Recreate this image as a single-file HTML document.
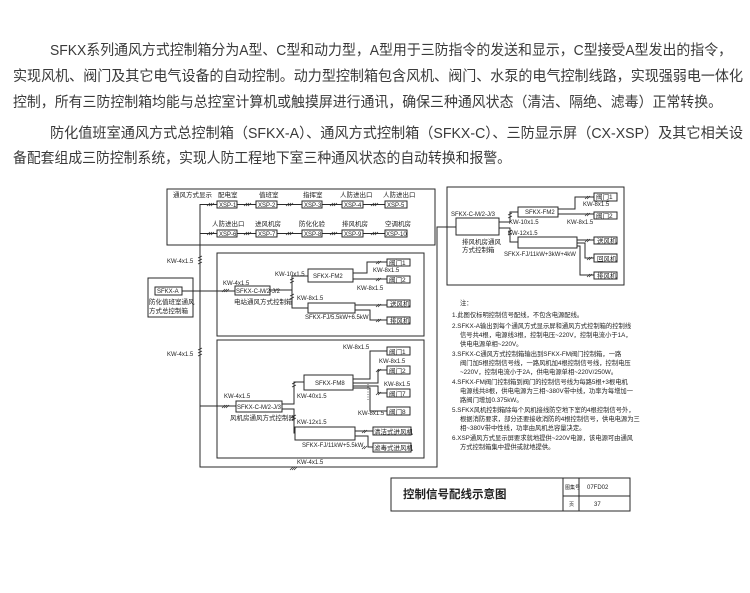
<!DOCTYPE html>
<html><head><meta charset="utf-8"><style>
html,body{margin:0;padding:0;background:#fff;width:750px;height:593px;overflow:hidden}
svg{display:block}
.p{font-family:"Liberation Sans","Noto Sans CJK SC",sans-serif;font-size:14.5px;fill:#3a3a3a}
.d{font-family:"Liberation Sans","Noto Sans CJK SC",sans-serif;fill:#222}
.s{font-size:6px}
.c{font-size:6.5px}
.n{font-size:6.3px}
</style></head><body>
<svg width="750" height="593" viewBox="0 0 750 593" xmlns="http://www.w3.org/2000/svg">
<g class="p">
<text x="50" y="55" textLength="682" lengthAdjust="spacingAndGlyphs">SFKX系列通风方式控制箱分为A型、C型和动力型，A型用于三防指令的发送和显示，C型接受A型发出的指令，</text>
<text x="13" y="81" textLength="730" lengthAdjust="spacingAndGlyphs">实现风机、阀门及其它电气设备的自动控制。动力型控制箱包含风机、阀门、水泵的电气控制线路，实现强弱电一体化</text>
<text x="13" y="107" textLength="709" lengthAdjust="spacingAndGlyphs">控制，所有三防控制箱均能与总控室计算机或触摸屏进行通讯，确保三种通风状态（清洁、隔绝、滤毒）正常转换。</text>
<text x="50" y="138" textLength="693" lengthAdjust="spacingAndGlyphs">防化值班室通风方式总控制箱（SFKX-A）、通风方式控制箱（SFKX-C）、三防显示屏（CX-XSP）及其它相关设</text>
<text x="13" y="163" textLength="498" lengthAdjust="spacingAndGlyphs">备配套组成三防控制系统，实现人防工程地下室三种通风状态的自动转换和报警。</text>
</g>
<g fill="none" stroke="#2a2a2a" stroke-width="1">
<rect x="167" y="189" width="268" height="56"/>
<rect x="217" y="201" width="20" height="7"/><rect x="256" y="201" width="21" height="7"/><rect x="302" y="201" width="20" height="7"/><rect x="342" y="201" width="21" height="7"/><rect x="385" y="201" width="22" height="7"/>
<rect x="217" y="230" width="20" height="7"/><rect x="256" y="230" width="21" height="7"/><rect x="302" y="230" width="20" height="7"/><rect x="342" y="230" width="21" height="7"/><rect x="385" y="230" width="22" height="7"/>
<path d="M200 204.5H217M237 204.5H256M277 204.5H302M322 204.5H342M363 204.5H385"/>
<path d="M200 233.5H217M237 233.5H256M277 233.5H302M322 233.5H342M363 233.5H385"/>
<path d="M200 204V467H437V227H456"/>
<rect x="148" y="278" width="45" height="39"/>
<rect x="155" y="287" width="27" height="8"/>
<path d="M182 291H235"/>
<rect x="217" y="253" width="207" height="83"/>
<rect x="235" y="286" width="35" height="9"/>
<rect x="308" y="269" width="45" height="13"/>
<rect x="308" y="303" width="47" height="10"/>
<path d="M270 290H292V276H308M292 290V308H308"/>
<path d="M353 273H367V262H387M353 279H387"/>
<path d="M355 305H387M355 310H370V320H387"/>
<rect x="387" y="259" width="23" height="7"/><rect x="387" y="276" width="23" height="7"/>
<rect x="387" y="300" width="23" height="7"/><rect x="387" y="317" width="23" height="7"/>
<rect x="217" y="340" width="207" height="118"/>
<rect x="236" y="401" width="46" height="11"/>
<rect x="304" y="375" width="49" height="15"/>
<rect x="295" y="427" width="60" height="13"/>
<path d="M200 406H236M282 404H294V382H304M282 409H294V433H295"/>
<path d="M353 379H370V351H387M353 383H378V370H387M353 386H378V393H387M353 388H370V411H387"/>
<path d="M355 431H373M355 436H368V447H373"/>
<rect x="387" y="347" width="23" height="8"/><rect x="387" y="366" width="23" height="8"/>
<rect x="387" y="389" width="23" height="8"/><rect x="387" y="407" width="23" height="8"/>
<rect x="373" y="427" width="38" height="8"/><rect x="373" y="443" width="38" height="9"/>
<rect x="447" y="187" width="177" height="98"/>
<rect x="456" y="218" width="43" height="17"/>
<rect x="518" y="207" width="40" height="10"/>
<rect x="518" y="237" width="59" height="11"/>
<path d="M499 222H510V212H518M499 228H510V242H518"/>
<path d="M558 209H575V197H594M558 214H594"/>
<path d="M577 240H594M577 243H585V258H594M577 246H580V275H594"/>
<rect x="594" y="193" width="23" height="8"/><rect x="594" y="212" width="23" height="7"/>
<rect x="594" y="237" width="23" height="7"/><rect x="594" y="254" width="23" height="8"/><rect x="594" y="272" width="23" height="7"/>
<rect x="391" y="478" width="239" height="33"/>
<path d="M563 478V511M579 478V511M563 496H630"/>
</g>
<g stroke="#2a2a2a" stroke-width="0.7">
<path d="M207 206l3-3M209 206l3-3M211 206l3-3M244 206l3-3M246 206l3-3M248 206l3-3M286 206l3-3M288 206l3-3M290 206l3-3M330 206l3-3M332 206l3-3M334 206l3-3M371 206l3-3M373 206l3-3M375 206l3-3"/>
<path d="M207 235l3-3M209 235l3-3M211 235l3-3M244 235l3-3M246 235l3-3M248 235l3-3M286 235l3-3M288 235l3-3M290 235l3-3M330 235l3-3M332 235l3-3M334 235l3-3M371 235l3-3M373 235l3-3M375 235l3-3"/>
<path d="M198 258l4-2M198 261l4-2M198 264l4-2M198 350l4-2M198 353l4-2M198 356l4-2M222 292l3-3M224 292l3-3M226 292l3-3M222 408l3-3M224 408l3-3M226 408l3-3M290 470l3-3M292 470l3-3M294 470l3-3"/>
<path d="M290 280l4-2M290 283l4-2M290 296l4-2M290 299l4-2M292 384l4-2M292 387l4-2M292 417l4-2M292 420l4-2M508 215l4-2M508 218l4-2M508 232l4-2M508 235l4-2"/>
<path d="M376 264l3-3M378 264l3-3M376 281l3-3M378 281l3-3M376 307l3-3M378 307l3-3M376 322l3-3M378 322l3-3M376 372l3-3M378 372l3-3M376 395l3-3M378 395l3-3M362 433l3-3M364 433l3-3M362 449l3-3M364 449l3-3M585 199l3-3M587 199l3-3M585 216l3-3M587 216l3-3M585 242l3-3M587 242l3-3M587 260l3-3M589 260l3-3M587 277l3-3M589 277l3-3"/>
<path d="M368 400V384" stroke-dasharray="1 1.5"/>
</g>
<g class="d">
<g class="c">
<text x="173" y="197">通风方式显示</text>
<text x="218" y="197">配电室</text><text x="259" y="197">值班室</text><text x="303" y="197">指挥室</text><text x="340" y="197">人防进出口</text><text x="383" y="197">人防进出口</text>
<text x="212" y="226">人防进出口</text><text x="255" y="226">进风机房</text><text x="299" y="226">防化化验</text><text x="342" y="226">排风机房</text><text x="385" y="226">空调机房</text>
<text x="149" y="304">防化值班室通风</text><text x="149" y="313">方式总控制箱</text>
<text x="234" y="304">电站通风方式控制箱</text>
<text x="230" y="420">风机房通风方式控制器</text>
<text x="389" y="265">阀门1</text><text x="389" y="282">阀门2</text><text x="390" y="306">送风机</text><text x="390" y="323">排风机</text>
<text x="389" y="354">阀门1</text><text x="389" y="373">阀门2</text><text x="389" y="396">阀门7</text><text x="389" y="414">阀门8</text>
<text x="374" y="434">清洁式进风机</text><text x="374" y="450">滤毒式进风机</text>
<text x="462" y="244">排风机房通风</text><text x="462" y="252">方式控制箱</text>
<text x="596" y="199">阀门1</text><text x="596" y="218">阀门2</text><text x="597" y="243">送风机</text><text x="597" y="261">回风机</text><text x="597" y="278">排风机</text>
</g>
<g class="s">
<text x="219" y="207">XSP-1</text><text x="258" y="207">XSP-2</text><text x="304" y="207">XSP-3</text><text x="344" y="207">XSP-4</text><text x="387" y="207">XSP-5</text>
<text x="219" y="236">XSP-6</text><text x="258" y="236">XSP-7</text><text x="304" y="236">XSP-8</text><text x="344" y="236">XSP-9</text><text x="386" y="236">XSP-10</text>
<text x="157" y="293">SFKX-A</text>
<text x="167" y="263">KW-4x1.5</text><text x="167" y="356">KW-4x1.5</text>
<text x="223" y="285">KW-4x1.5</text><text x="236" y="293">SFKX-C-M/2-J/2</text>
<text x="275" y="276">KW-10x1.5</text><text x="313" y="278">SFKX-FM2</text>
<text x="373" y="272">KW-8x1.5</text><text x="357" y="290">KW-8x1.5</text>
<text x="297" y="300">KW-8x1.5</text><text x="305" y="319">SFKX-FJ/5.5kW+6.5kW</text>
<text x="343" y="349">KW-8x1.5</text><text x="379" y="363">KW-8x1.5</text><text x="384" y="386">KW-8x1.5</text><text x="358" y="415">KW-8x1.5</text>
<text x="315" y="385">SFKX-FM8</text><text x="297" y="398">KW-40x1.5</text>
<text x="224" y="398">KW-4x1.5</text><text x="237" y="409">SFKX-C-M/2-J/3</text>
<text x="297" y="424">KW-12x1.5</text><text x="302" y="447">SFKX-FJ/11kW+5.5kW</text>
<text x="297" y="464">KW-4x1.5</text>
<text x="451" y="216">SFKX-C-M/2-J/3</text><text x="525" y="214">SFKX-FM2</text>
<text x="509" y="224">KW-10x1.5</text><text x="508" y="235">KW-12x1.5</text>
<text x="583" y="206">KW-8x1.5</text><text x="567" y="224">KW-8x1.5</text>
<text x="504" y="256">SFKX-FJ/11kW+3kW+4kW</text>
<text x="565" y="489" font-size="5">图集号</text><text x="587" y="489">07FD02</text>
<text x="569" y="506" font-size="5">页</text><text x="594" y="506">37</text>
</g>
<text x="403" y="498" font-size="11.5" font-weight="bold">控制信号配线示意图</text>
<g class="n">
<text x="460" y="305">注：</text>
<text x="452" y="317">1.此图仅标明控制信号配线，不包含电源配线。</text>
<text x="452" y="328">2.SFKX-A输出到每个通风方式显示屏和通风方式控制箱的控制线</text>
<text x="460" y="337">信号共4根，电源线3根，控制电压~220V，控制电流小于1A，</text>
<text x="460" y="346">供电电源单相~220V。</text>
<text x="452" y="356">3.SFKX-C通风方式控制箱输出到SFKX-FM阀门控制箱，一路</text>
<text x="460" y="365">阀门加5根控制信号线，一路风机加4根控制信号线，控制电压</text>
<text x="460" y="374">~220V，控制电流小于2A，供电电源单相~220V/250W。</text>
<text x="452" y="384">4.SFKX-FM阀门控制箱到阀门的控制信号线为每路5根+3根电机</text>
<text x="460" y="393">电源线共8根，供电电源为三相~380V带中线，功率为每增加一</text>
<text x="460" y="402">路阀门增加0.375kW。</text>
<text x="452" y="412">5.SFKX风机控制箱除每个风机接线防空地下室的4根控制信号外，</text>
<text x="460" y="421">根据消防要求，部分还要接收消防的4根控制信号，供电电源为三</text>
<text x="460" y="430">相~380V带中性线，功率由风机总容量决定。</text>
<text x="452" y="440">6.XSP通风方式显示屏要求就地提供~220V电源，该电源可由通风</text>
<text x="460" y="449">方式控制箱集中提供或就地提供。</text>
</g>
</g>
</svg>
</body></html>
